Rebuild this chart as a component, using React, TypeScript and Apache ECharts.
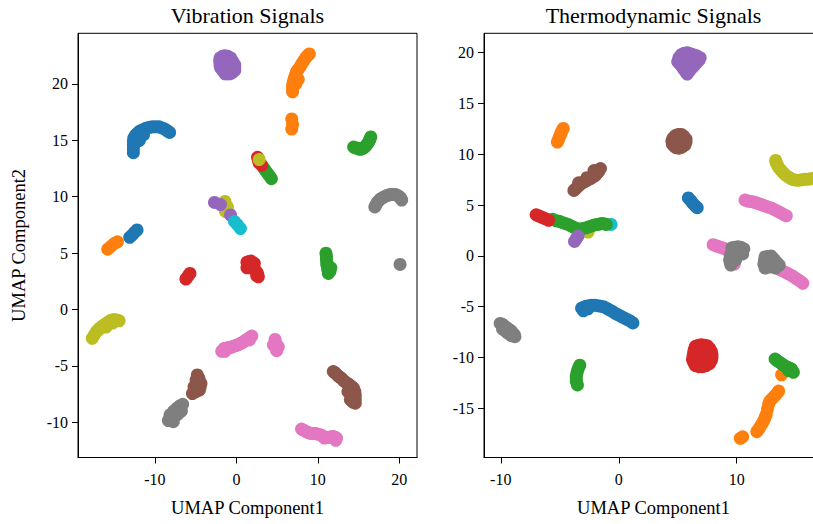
import React, { useEffect, useRef } from "react";
import * as echarts from "echarts";

// ---------- colours (matplotlib tab10) ----------
const BLUE = "#1f77b4";
const ORANGE = "#ff7f0e";
const GREEN = "#2ca02c";
const RED = "#d62728";
const PURPLE = "#9467bd";
const BROWN = "#8c564b";
const PINK = "#e377c2";
const GRAY = "#7f7f7f";
const OLIVE = "#bcbd22";
const CYAN = "#17becf";

// ---------- titles / labels ----------
const TITLES = ["Vibration Signals", "Thermodynamic Signals"];
const X_NAME = "UMAP Component1";
const Y_NAME = "UMAP Component2";

// ---------- ticks ----------
const vibXTicks = [-10, 0, 10, 20];
const vibYTicks = [-10, -5, 0, 5, 10, 15, 20];
const thermoXTicks = [-10, 0, 10];
const thermoYTicks = [-15, -10, -5, 0, 5, 10, 15, 20];
const vibXRange = [-19.45, 22.18];
const vibYRange = [-13.12, 24.49];
const thermoXRange = [-11.42, 17.31];
const thermoYRange = [-19.84, 21.91];

// ---------- Vibration Signals embedding ----------
const vibBlue = [
  [-12.65, 13.9], [-12.65, 14.25], [-12.65, 14.6], [-12.65, 14.9], [-12.6, 15.2], [-12.4, 15.45], [-12.2, 15.6],
  [-11.9, 15.8], [-11.6, 15.9], [-11.3, 16.0], [-11.0, 16.1], [-10.65, 16.15], [-10.3, 16.2], [-9.9, 16.2],
  [-9.5, 16.2], [-9.15, 16.1], [-8.8, 16.0], [-8.5, 15.85], [-8.2, 15.7], [-11.9, 15.0], [-11.4, 15.5],
  [-12.2, 14.9],
  [-13.1, 6.4], [-12.8, 6.6], [-12.5, 6.85], [-12.2, 7.05],
];
const vibOrange = [
  [6.9, 19.3], [6.9, 19.6], [6.9, 19.9], [7.0, 20.2], [7.1, 20.5], [7.25, 20.8], [7.4, 21.1], [7.6, 21.3],
  [7.8, 21.5], [8.0, 21.75], [8.2, 21.97], [8.4, 22.2], [8.6, 22.4], [8.8, 22.55], [8.96, 22.66], [7.6, 20.4],
  [7.3, 20.0],
  [6.8, 16.9], [6.8, 16.0], [6.9, 16.4],
  [-15.8, 5.35], [-15.4, 5.6], [-15.0, 5.85], [-14.6, 6.0],
];
const vibGreen = [
  [14.4, 14.4], [14.6, 14.35], [14.8, 14.3], [15.0, 14.25], [15.2, 14.2], [15.4, 14.25], [15.6, 14.3],
  [15.75, 14.4], [15.9, 14.5], [16.05, 14.65], [16.2, 14.8], [16.3, 14.95], [16.4, 15.1], [16.5, 15.3],
  [3.3, 12.6], [3.55, 12.35], [3.8, 12.1], [4.05, 11.85], [4.3, 11.6],
  [11.0, 5.0], [11.05, 4.75], [11.05, 4.5], [11.1, 4.25], [11.1, 4.0], [11.2, 3.6], [11.5, 3.4], [11.3, 3.2],
  [11.6, 3.7], [11.3, 3.8],
];
const vibRed = [
  [2.6, 13.5], [2.7, 13.25], [2.8, 13.0], [3.1, 12.8],
  [-5.7, 3.2], [-6.2, 2.7], [-5.95, 2.95],
  [1.3, 4.2], [1.55, 4.25], [1.8, 4.3], [2.2, 4.1], [1.3, 3.7], [1.8, 3.7], [2.3, 3.5], [2.45, 3.35],
  [2.6, 3.2], [2.7, 2.9], [1.6, 3.9], [2.1, 3.9], [2.5, 3.0],
];
const vibBrown = [
  [-4.8, -5.8], [-4.95, -6.25], [-4.35, -6.55], [-5.2, -6.85], [-4.55, -7.15], [-5.4, -7.45],
  [-4.6, -6.1], [-4.9, -6.8], [-5.0, -7.3], [-4.45, -6.9],
  [11.9, -5.5], [12.1, -5.6], [12.3, -5.75], [12.5, -5.9], [12.7, -6.0], [12.9, -6.1], [13.1, -6.25],
  [13.3, -6.4], [13.5, -6.5], [13.75, -6.6], [14.0, -6.75], [14.2, -6.85], [14.4, -7.0], [14.55, -7.3],
  [14.6, -7.6], [14.6, -7.95], [14.6, -8.3], [13.7, -7.3], [14.0, -8.0], [14.2, -7.5], [14.3, -8.2],
];
const vibPink = [
  [-1.8, -3.7], [-1.5, -3.45], [-1.3, -3.45], [-1.1, -3.4], [-0.9, -3.4], [-0.7, -3.35], [-0.5, -3.3],
  [-0.3, -3.25], [-0.1, -3.2], [0.1, -3.15], [0.3, -3.1], [0.5, -3.0], [0.7, -2.95], [0.9, -2.85],
  [1.1, -2.75], [1.3, -2.65], [1.5, -2.55], [1.7, -2.45], [1.9, -2.35], [1.6, -2.7], [-1.4, -3.7],
  [4.75, -2.65], [4.55, -3.15], [5.15, -3.3], [4.95, -3.65], [4.85, -3.0],
  [8.0, -10.6], [8.25, -10.7], [8.5, -10.8], [8.75, -10.9], [9.0, -10.95], [9.25, -11.0], [9.5, -11.0],
  [9.75, -11.0], [10.0, -11.05], [10.25, -11.1], [10.5, -11.15], [10.8, -11.4], [11.05, -11.35],
  [11.3, -11.35], [11.55, -11.3], [11.8, -11.25], [12.05, -11.3], [12.3, -11.4], [12.2, -11.6],
];
const vibGray = [
  [17.0, 9.1], [17.15, 9.3], [17.3, 9.5], [17.5, 9.65], [17.7, 9.8], [17.95, 9.9], [18.2, 10.0],
  [18.45, 10.1], [18.7, 10.15], [18.95, 10.2], [19.2, 10.2], [19.45, 10.2], [19.7, 10.15], [19.9, 10.05],
  [20.1, 9.95], [20.2, 9.85], [20.3, 9.7],
  [20.1, 4.0],
  [-6.6, -8.4], [-7.3, -8.75], [-6.75, -9.0], [-7.3, -9.35], [-8.15, -9.35], [-8.35, -9.85], [-7.75, -9.95],
  [-6.95, -8.55], [-7.7, -9.0], [-7.9, -9.6], [-7.1, -9.2],
];
const vibOlive = [
  [2.8, 13.3],
  [-1.4, 9.58], [-1.1, 9.1], [-1.33, 8.69],
  [-17.7, -2.55], [-17.45, -2.25], [-17.2, -1.97], [-17.0, -1.85], [-16.85, -1.7], [-16.65, -1.6],
  [-16.5, -1.5], [-16.3, -1.4], [-16.1, -1.3], [-15.9, -1.2], [-15.7, -1.1], [-15.5, -1.0], [-15.3, -0.95],
  [-15.1, -0.9], [-14.9, -0.9], [-14.65, -0.95], [-14.4, -1.0], [-15.2, -1.2], [-16.0, -1.55],
];
const vibPurple = [
  [-2.0, 22.3], [-1.7, 22.45], [-1.4, 22.5], [-1.05, 22.45], [-0.7, 22.3], [-0.45, 22.0], [-0.2, 21.7],
  [-0.2, 21.45], [-0.2, 21.2], [-0.5, 21.0], [-0.8, 20.9], [-1.1, 20.9], [-1.4, 20.9], [-1.65, 21.15],
  [-1.9, 21.4], [-2.0, 21.6], [-2.0, 21.8], [-2.05, 22.05], [-1.1, 21.7], [-1.5, 21.9], [-0.7, 21.5],
  [-1.3, 22.1], [-0.9, 21.2],
  [-2.69, 9.49], [-1.95, 9.31], [-0.72, 8.38],
];
const vibCyan = [
  [-0.23, 7.8], [0.5, 7.18], [0.15, 7.5],
];

// ---------- Thermodynamic Signals embedding ----------
const thermoBlue = [
  [5.9, 5.7], [6.1, 5.45], [6.25, 5.2], [6.45, 4.95], [6.65, 4.75],
  [-3.15, -5.15], [-2.95, -5.05], [-2.75, -4.95], [-2.5, -4.9], [-2.3, -4.85], [-2.05, -4.85], [-1.8, -4.9],
  [-1.55, -4.95], [-1.3, -5.0], [-1.05, -5.15], [-0.8, -5.3], [-0.55, -5.45], [-0.3, -5.65], [-0.05, -5.8],
  [0.2, -5.95], [0.45, -6.1], [0.7, -6.25], [0.95, -6.4], [1.2, -6.6], [-3.0, -5.4], [-2.6, -5.2],
];
const thermoOrange = [
  [-5.2, 11.2], [-5.1, 11.45], [-5.05, 11.65], [-4.95, 11.9], [-4.9, 12.1], [-4.8, 12.35], [-4.7, 12.55],
  [13.8, -11.7], [13.55, -13.3], [13.4, -13.55], [13.2, -13.8], [13.0, -14.05], [12.8, -14.3], [12.7, -14.6],
  [12.6, -15.1], [12.5, -15.6], [12.4, -15.9], [12.3, -16.2], [12.15, -16.5], [12.0, -16.8], [11.85, -17.05],
  [11.7, -17.3], [10.3, -17.95], [10.5, -17.8],
];
const thermoCyan = [[-0.65, 3.1]];
const thermoOlive = [
  [-2.6, 2.35],
  [13.3, 9.4], [13.35, 9.15], [13.45, 8.95], [13.55, 8.7], [13.7, 8.5], [13.85, 8.3], [14.0, 8.1],
  [14.2, 7.9], [14.4, 7.75], [14.6, 7.6], [14.8, 7.5], [15.05, 7.45], [15.3, 7.45], [15.55, 7.5],
  [15.8, 7.55], [16.05, 7.55], [16.3, 7.6], [16.55, 7.65], [16.8, 7.7],
];
const thermoGreen = [
  [-5.6, 3.6], [-5.3, 3.45], [-5.05, 3.4], [-4.8, 3.3], [-4.55, 3.2], [-4.3, 3.1], [-4.05, 2.95],
  [-3.8, 2.8], [-3.55, 2.7], [-3.3, 2.6], [-3.05, 2.7], [-2.8, 2.75], [-2.55, 2.85], [-2.3, 2.95],
  [-2.05, 3.05], [-1.8, 3.1], [-1.6, 3.15], [-1.4, 3.2], [-1.2, 3.15], [-1.05, 3.1],
  [-3.3, -10.75], [-3.4, -11.0], [-3.5, -11.3], [-3.55, -11.55], [-3.6, -11.85], [-3.6, -12.1],
  [-3.6, -12.35], [-3.5, -12.7],
  [13.25, -10.15], [13.4, -10.3], [13.6, -10.45], [13.8, -10.6], [13.95, -10.75], [14.1, -10.85],
  [14.3, -10.95], [14.5, -11.05], [14.65, -11.15], [14.8, -11.45], [14.4, -11.3],
];
const thermoRed = [
  [-7.0, 4.05], [-6.8, 3.95], [-6.6, 3.85], [-6.4, 3.75], [-6.2, 3.65], [-5.95, 3.5],
  [6.5, -8.9], [7.0, -8.75], [7.5, -8.85], [7.85, -9.4], [7.9, -10.0], [7.7, -10.6], [7.1, -10.9],
  [6.5, -10.8], [6.25, -10.2], [6.35, -9.5], [7.0, -9.8], [6.75, -8.8], [7.25, -8.8], [7.7, -9.1],
  [7.9, -9.7], [7.85, -10.3], [7.4, -10.8], [6.8, -10.9], [6.35, -10.5], [6.3, -9.85], [6.4, -9.2],
  [6.8, -9.4], [7.4, -9.4], [7.4, -10.2], [6.8, -10.3],
];
const thermoBrown = [
  [4.5, 11.3], [4.8, 11.85], [5.3, 11.95], [5.7, 11.5], [5.6, 10.9], [5.1, 10.6], [4.7, 10.8], [5.1, 11.3],
  [4.6, 11.6], [5.05, 11.95], [5.5, 11.8], [5.7, 11.2], [5.35, 10.7], [4.85, 10.65], [4.55, 11.0],
  [-3.8, 6.45], [-3.65, 6.6], [-3.5, 6.8], [-3.35, 6.95], [-3.2, 7.1], [-3.0, 7.25], [-2.8, 7.35],
  [-2.6, 7.5], [-2.4, 7.6], [-2.2, 7.75], [-2.0, 7.9], [-1.85, 8.1], [-1.7, 8.3], [-1.55, 8.6],
  [-3.4, 7.2], [-2.1, 8.4], [-2.7, 7.7],
];
const thermoPink = [
  [10.7, 5.5], [10.95, 5.4], [11.2, 5.35], [11.45, 5.3], [11.7, 5.2], [11.95, 5.1], [12.2, 5.0],
  [12.45, 4.9], [12.7, 4.8], [12.95, 4.7], [13.2, 4.55], [13.45, 4.4], [13.7, 4.25], [13.95, 4.1], [14.2, 3.95],
  [8.0, 1.1], [8.25, 1.0], [8.5, 0.9], [8.75, 0.8], [9.0, 0.7], [9.4, 0.3], [9.6, -0.3], [9.8, -0.8],
  [13.2, -0.8], [13.6, -1.3], [13.85, -1.45], [14.1, -1.6], [14.35, -1.75], [14.6, -1.9], [14.8, -2.05],
  [15.0, -2.2], [15.2, -2.35], [15.4, -2.5], [15.6, -2.7],
];
const thermoGray = [
  [9.6, 0.8], [10.1, 0.9], [10.6, 0.7], [10.5, 0.2], [10.0, 0.1], [9.5, 0.2], [9.4, -0.4], [9.5, -0.9],
  [9.9, -0.4], [9.85, 0.85], [10.35, 0.85], [10.3, 0.4], [9.7, 0.5], [9.45, -0.1], [9.45, -0.65],
  [12.4, -0.1], [12.9, 0.0], [13.2, -0.4], [13.6, -0.9], [13.3, -1.2], [12.8, -1.1], [12.3, -0.8],
  [12.4, -1.2], [12.65, -0.05], [13.05, -0.2], [13.4, -0.65], [12.85, -0.6], [12.35, -0.45],
  [-10.05, -6.65], [-9.85, -6.75], [-9.7, -6.9], [-9.5, -7.05], [-9.35, -7.2], [-9.15, -7.35], [-9.0, -7.55],
  [-8.85, -7.75], [-8.8, -7.95], [-9.4, -7.6], [-9.85, -7.2], [-9.1, -7.85], [-9.6, -7.4],
];
const thermoPurple = [
  [5.0, 19.1], [5.3, 19.8], [5.8, 20.0], [6.3, 19.8], [6.9, 19.5], [6.6, 19.0], [6.2, 18.5], [5.8, 17.9],
  [5.5, 18.4], [5.9, 19.2], [5.2, 18.9], [5.1, 19.5], [5.55, 19.95], [6.05, 19.9], [6.6, 19.7], [6.8, 19.25],
  [6.4, 18.75], [6.0, 18.2], [5.65, 18.15], [5.35, 18.65], [5.5, 19.3], [6.3, 19.3],
  [-3.45, 1.95], [-3.6, 1.7], [-3.75, 1.42],
];

// drawing order (later = on top)
const vibLayers: [number[][], string][] = [
  [vibBlue, BLUE], [vibOrange, ORANGE], [vibGreen, GREEN], [vibRed, RED], [vibBrown, BROWN],
  [vibPink, PINK], [vibGray, GRAY], [vibOlive, OLIVE], [vibPurple, PURPLE], [vibCyan, CYAN],
];
const thermoLayers: [number[][], string][] = [
  [thermoBlue, BLUE], [thermoOrange, ORANGE], [thermoCyan, CYAN], [thermoOlive, OLIVE], [thermoGreen, GREEN],
  [thermoRed, RED], [thermoBrown, BROWN], [thermoPink, PINK], [thermoGray, GRAY], [thermoPurple, PURPLE],
];

const FONT = "Liberation Serif";
const MARKER = 13;

function makeXAxis(gridIndex: number, range: number[], ticks: number[]) {
  return {
    type: "value",
    gridIndex,
    min: range[0],
    max: range[1],
    axisLine: { show: true, onZero: false, lineStyle: { color: "#000", width: 1 } },
    axisTick: { show: true, inside: false, length: 6, customValues: ticks, lineStyle: { color: "#000", width: 1 } },
    axisLabel: { customValues: ticks, fontFamily: FONT, fontSize: 16, color: "#000", margin: 14 },
    splitLine: { show: false },
    name: X_NAME,
    nameLocation: "middle",
    nameGap: 41,
    nameTextStyle: { fontFamily: FONT, fontSize: 18.5, color: "#000" },
  };
}

function makeYAxis(gridIndex: number, range: number[], ticks: number[], name: string) {
  return {
    type: "value",
    gridIndex,
    min: range[0],
    max: range[1],
    axisLine: { show: true, onZero: false, lineStyle: { color: "#000", width: 1 } },
    axisTick: { show: true, inside: false, length: 6, customValues: ticks, lineStyle: { color: "#000", width: 1 } },
    axisLabel: { customValues: ticks, fontFamily: FONT, fontSize: 16, color: "#000", margin: 10 },
    splitLine: { show: false },
    name,
    nameLocation: "middle",
    nameGap: 50,
    nameTextStyle: { fontFamily: FONT, fontSize: 18.5, color: "#000" },
  };
}

function layerSeries(layers: [number[][], string][], idx: number) {
  return layers.map(([pts, color]) => ({
    type: "scatter",
    xAxisIndex: idx,
    yAxisIndex: idx,
    data: pts,
    symbol: "circle",
    symbolSize: MARKER,
    itemStyle: { color, opacity: 1 },
    silent: true,
    emphasis: { disabled: true },
  }));
}

export default function App() {
  const ref = useRef<HTMLDivElement>(null);
  useEffect(() => {
    document.body.style.margin = "0";
    if (!ref.current) return;
    const chart = echarts.init(ref.current, null, { renderer: "svg" });
    const gridBase = {
      top: 33.3,
      width: 339,
      height: 424.2,
      show: true,
      borderColor: "#000",
      borderWidth: 1,
      backgroundColor: "transparent",
      containLabel: false,
      outerBoundsMode: "none",
    };
    chart.setOption({
      animation: false,
      backgroundColor: "#fff",
      textStyle: { fontFamily: FONT },
      grid: [
        { ...gridBase, left: 78 },
        { ...gridBase, left: 484 },
      ],
      xAxis: [makeXAxis(0, vibXRange, vibXTicks), makeXAxis(1, thermoXRange, thermoXTicks)],
      yAxis: [makeYAxis(0, vibYRange, vibYTicks, Y_NAME), makeYAxis(1, thermoYRange, thermoYTicks, "")],
      graphic: [
        {
          type: "text",
          x: 247.5,
          y: 15,
          style: { text: TITLES[0], font: `22px "${FONT}"`, fill: "#000", align: "center", verticalAlign: "middle" },
        },
        {
          type: "text",
          x: 653.5,
          y: 15,
          style: { text: TITLES[1], font: `22px "${FONT}"`, fill: "#000", align: "center", verticalAlign: "middle" },
        },
      ],
      series: [...layerSeries(vibLayers, 0), ...layerSeries(thermoLayers, 1)],
    } as any);
    return () => chart.dispose();
  }, []);
  return <div ref={ref} style={{ width: 813, height: 524 }} />;
}
